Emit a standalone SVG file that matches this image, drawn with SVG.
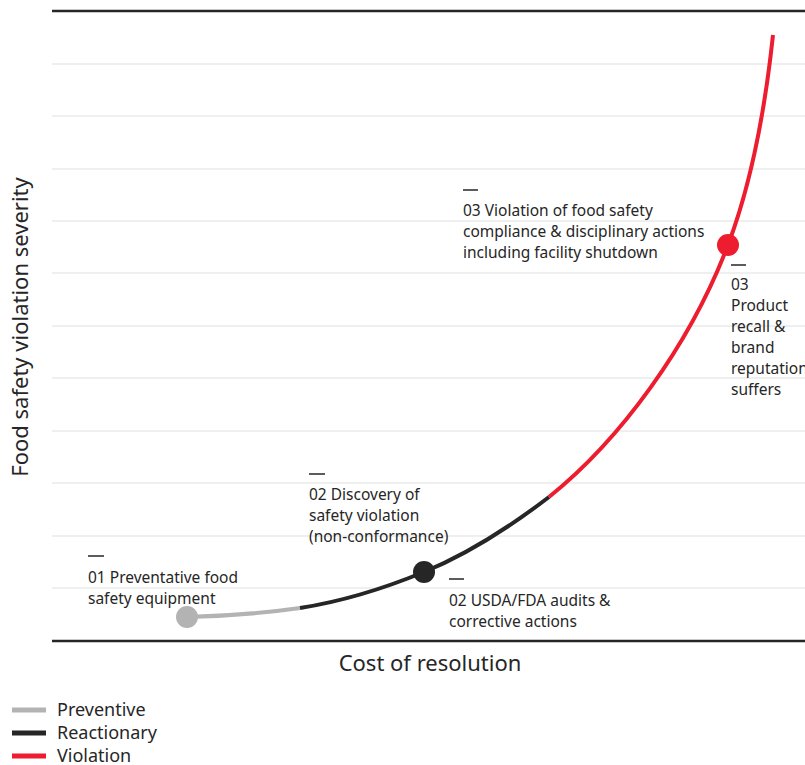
<svg xmlns="http://www.w3.org/2000/svg" width="805" height="765" viewBox="0 0 805 765">
<style>
.grid{stroke:#efefef;stroke-width:2}
.axis{stroke:#262626;stroke-width:2.5}
.t{font-family:"Noto Sans","Open Sans",sans-serif;font-size:15.5px;fill:#262626}
.ax{font-family:"Noto Sans","Open Sans",sans-serif;font-size:22px;fill:#262626}
.lg{font-family:"Noto Sans","Open Sans",sans-serif;font-size:18px;fill:#262626}
.dash{stroke:#262626;stroke-width:1.5}
.c{fill:none;stroke-width:4}
.gray{stroke:#b3b3b3}
.blk{stroke:#262626}
.red{stroke:#ed1c2e}
</style>
<rect width="805" height="765" fill="#ffffff"/>
<g id="grid">
<line class="grid" x1="52" y1="64" x2="805" y2="64"/>
<line class="grid" x1="52" y1="116" x2="805" y2="116"/>
<line class="grid" x1="52" y1="169" x2="805" y2="169"/>
<line class="grid" x1="52" y1="221" x2="805" y2="221"/>
<line class="grid" x1="52" y1="273" x2="805" y2="273"/>
<line class="grid" x1="52" y1="326" x2="805" y2="326"/>
<line class="grid" x1="52" y1="378" x2="805" y2="378"/>
<line class="grid" x1="52" y1="431" x2="805" y2="431"/>
<line class="grid" x1="52" y1="483" x2="805" y2="483"/>
<line class="grid" x1="52" y1="536" x2="805" y2="536"/>
<line class="grid" x1="52" y1="588" x2="805" y2="588"/>
</g>
<g id="axes">
<line class="axis" x1="52" y1="11" x2="805" y2="11"/>
<line class="axis" x1="52" y1="641" x2="805" y2="641"/>
<text class="ax" transform="translate(28,327) rotate(-90)" text-anchor="middle">Food safety violation severity</text>
<text class="ax" x="430" y="671" text-anchor="middle">Cost of resolution</text>
</g>
<g id="connectors">
<path class="c gray" d="M187,617 C230,616 265,613 300,608"/>
<path class="c blk" d="M300,608 C345,601 390,586 424,572 C470,553 515,523 549,497"/>
<path class="c red" d="M549,497 C620,440 690,345 728,245 C750,187 765,110 773,35"/>
</g>
<g id="node-01">
<circle cx="187" cy="617" r="11" fill="#b3b3b3"/>
<line class="dash" x1="88" y1="556" x2="104" y2="556"/>
<text class="t" x="88" y="583">01 Preventative food</text>
<text class="t" x="88" y="604">safety equipment</text>
</g>
<g id="node-02-discovery">
<line class="dash" x1="309" y1="474" x2="325" y2="474"/>
<text class="t" x="309" y="500">02 Discovery of</text>
<text class="t" x="309" y="521">safety violation</text>
<text class="t" x="309" y="542">(non-conformance)</text>
</g>
<g id="node-02-audits">
<circle cx="424" cy="572" r="11" fill="#262626"/>
<line class="dash" x1="449" y1="579" x2="464" y2="579"/>
<text class="t" x="449" y="606">02 USDA/FDA audits &amp;</text>
<text class="t" x="449" y="627">corrective actions</text>
</g>
<g id="node-03-violation">
<line class="dash" x1="463" y1="190" x2="478" y2="190"/>
<text class="t" x="463" y="216">03 Violation of food safety</text>
<text class="t" x="463" y="237">compliance &amp; disciplinary actions</text>
<text class="t" x="463" y="258">including facility shutdown</text>
</g>
<g id="node-03-recall">
<circle cx="728" cy="245" r="11" fill="#ed1c2e"/>
<line class="dash" x1="731" y1="265" x2="746" y2="265"/>
<text class="t" x="731" y="290">03</text>
<text class="t" x="731" y="311">Product</text>
<text class="t" x="731" y="332">recall &amp;</text>
<text class="t" x="731" y="353">brand</text>
<text class="t" x="731" y="374">reputation</text>
<text class="t" x="731" y="395">suffers</text>
</g>
<g id="legend">
<line x1="12" y1="710" x2="46" y2="710" stroke="#b3b3b3" stroke-width="5"/>
<text class="lg" x="57" y="716">Preventive</text>
<line x1="12" y1="733" x2="46" y2="733" stroke="#262626" stroke-width="5"/>
<text class="lg" x="57" y="739">Reactionary</text>
<line x1="12" y1="756" x2="46" y2="756" stroke="#ed1c2e" stroke-width="5"/>
<text class="lg" x="57" y="762">Violation</text>
</g>
</svg>
